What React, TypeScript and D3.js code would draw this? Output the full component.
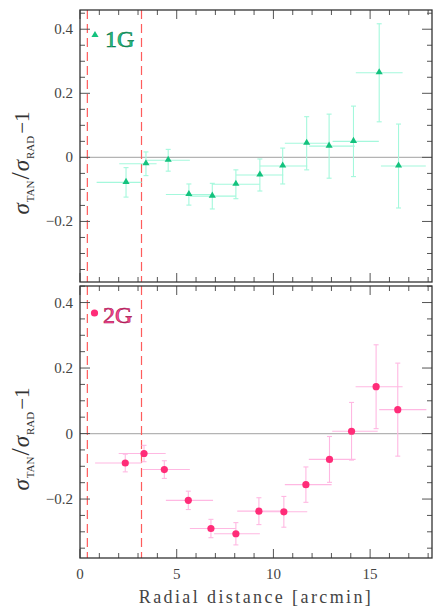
import React from 'react'
import * as d3 from 'd3'

// 1G (first generation)
const g1X = [2.38, 3.41, 4.56, 5.63, 6.84, 8.06, 9.30, 10.48, 11.72, 12.88, 14.14, 15.47, 16.47]
const g1Y = [-0.078, -0.020, -0.009, -0.116, -0.121, -0.084, -0.055, -0.027, 0.044, 0.035, 0.050, 0.264, -0.027]
const g1Err = [0.046, 0.037, 0.034, 0.033, 0.040, 0.045, 0.050, 0.056, 0.083, 0.100, 0.110, 0.153, 0.131]
const g1XLo = [0.86, 2.03, 3.45, 4.44, 5.68, 6.82, 8.06, 9.30, 10.59, 11.85, 13.06, 14.26, 15.56]
const g1XHi = [3.19, 3.96, 5.68, 6.82, 8.06, 9.30, 10.51, 11.75, 12.88, 14.21, 15.45, 16.68, 17.88]

// 2G (second generation)
const g2X = [2.34, 3.31, 4.36, 5.60, 6.77, 8.06, 9.25, 10.54, 11.68, 12.90, 14.04, 15.31, 16.43]
const g2Y = [-0.090, -0.061, -0.110, -0.204, -0.290, -0.306, -0.237, -0.239, -0.156, -0.079, 0.007, 0.143, 0.073]
const g2Err = [0.027, 0.025, 0.027, 0.028, 0.028, 0.034, 0.041, 0.047, 0.054, 0.070, 0.088, 0.128, 0.142]
const g2XLo = [0.78, 2.0, 3.22, 4.44, 5.68, 6.93, 8.13, 9.30, 10.59, 11.83, 13.04, 14.25, 15.47]
const g2XHi = [3.19, 4.43, 5.68, 6.88, 8.06, 9.30, 10.47, 11.75, 13.01, 14.25, 15.39, 16.68, 17.91]

// core radius and half-light radius
const refLines = [0.38, 3.18]
const xTickLabels = [0, 5, 10, 15]
const yTickLabels = [-0.2, 0, 0.2, 0.4]

const serif = '"Liberation Serif", "DejaVu Serif", "Times New Roman", Times, serif'
const left = 80, right = 432

const x = d3.scaleLinear().domain([0, 18.2]).range([left, right])

function Panel(props) {
  const { top, bottom, domain, xs, ys, errs, xlo, xhi, marker, barColor, dotColor, label, labelFill, labelStroke, showX } = props
  const y = d3.scaleLinear().domain(domain).range([bottom, top])
  const minorX = d3.range(0, 19)
  const minorY = d3.ticks(-0.35, 0.45, 16)
  const tri = d3.symbol().type(d3.symbolTriangle).size(22)()
  const midY = (top + bottom) / 2 + 17

  return (
    <g>
      {/* zero line */}
      <line x1={left} x2={right} y1={y(0)} y2={y(0)} stroke="#b4b4b4" strokeWidth={1.2} />
      {/* dashed radii */}
      {refLines.map((r, i) => (
        <line key={i} x1={x(r)} x2={x(r)} y1={top} y2={bottom} stroke="#ff5c5c" strokeWidth={1.2} strokeDasharray="9,5" />
      ))}
      {/* error bars */}
      {xs.map((d, i) => (
        <g key={i} stroke={barColor} strokeWidth={1.1}>
          <line x1={x(xlo[i])} x2={x(xhi[i])} y1={y(ys[i])} y2={y(ys[i])} />
          <line x1={x(d)} x2={x(d)} y1={y(ys[i] - errs[i])} y2={y(ys[i] + errs[i])} />
          <line x1={x(d) - 2.5} x2={x(d) + 2.5} y1={y(ys[i] - errs[i])} y2={y(ys[i] - errs[i])} />
          <line x1={x(d) - 2.5} x2={x(d) + 2.5} y1={y(ys[i] + errs[i])} y2={y(ys[i] + errs[i])} />
        </g>
      ))}
      {/* markers */}
      {xs.map((d, i) => marker === 'tri'
        ? <path key={'m' + i} d={tri} transform={`translate(${x(d)},${y(ys[i]) - 0.5})`} fill={dotColor} />
        : <circle key={'m' + i} cx={x(d)} cy={y(ys[i])} r={3.6} fill={dotColor} />)}
      {/* ticks */}
      {minorX.map(t => {
        const len = t % 5 === 0 ? 9 : 5
        return (
          <g key={'tx' + t} stroke="#555" strokeWidth={1}>
            <line x1={x(t)} x2={x(t)} y1={bottom} y2={bottom - len} />
            <line x1={x(t)} x2={x(t)} y1={top} y2={top + len} />
          </g>
        )
      })}
      {minorY.map(t => {
        const major = Math.abs(Math.round(t * 100) % 20) === 0
        const len = major ? 10 : 5
        return (
          <g key={'ty' + t} stroke="#555" strokeWidth={1}>
            <line x1={left} x2={left + len} y1={y(t)} y2={y(t)} />
            <line x1={right} x2={right - len} y1={y(t)} y2={y(t)} />
          </g>
        )
      })}
      {yTickLabels.map(t => (
        <text key={'yl' + t} x={73} y={y(t) + 5} textAnchor="end" style={{ fontFamily: serif }} fontSize={15} fill="#444">
          {t === 0 ? '0' : (t < 0 ? '\u2212' : '') + Math.abs(t).toFixed(1)}
        </text>
      ))}
      {showX && xTickLabels.map(t => (
        <text key={'xl' + t} x={x(t)} y={bottom + 21} textAnchor="middle" style={{ fontFamily: serif }} fontSize={15} fill="#444">{t}</text>
      ))}
      {/* frame */}
      <rect x={left} y={top} width={right - left} height={bottom - top} fill="none" stroke="#333" strokeWidth={1.3} />
      {/* legend */}
      {marker === 'tri'
        ? <path d={tri} transform={`translate(95,${top + 25})`} fill={dotColor} />
        : <circle cx={94.5} cy={top + 27} r={3.6} fill={dotColor} />}
      <text x={marker === 'tri' ? 105 : 103} y={top + 37} style={{ fontFamily: serif }} fontSize={24} fill={labelFill} stroke={labelStroke} strokeWidth={0.6}>{label}</text>
      {/* y label */}
      <text transform={`translate(29,${midY}) rotate(-90)`} textAnchor="middle" style={{ fontFamily: serif }} fill="#333">
        <tspan fontStyle="italic" fontSize={23}>σ</tspan>
        <tspan fontSize={11} dy={5} dx={1}>TAN</tspan>
        <tspan fontSize={26} dy={-5} dx={1}>/</tspan>
        <tspan fontStyle="italic" fontSize={23} dx={1}>σ</tspan>
        <tspan fontSize={11} dy={5} dx={1}>RAD</tspan>
        <tspan fontSize={21} dy={-5} dx={2}>{'\u22121'}</tspan>
      </text>
    </g>
  )
}

export default function App() {
  return (
    <svg width={436} height={608} style={{ position: 'absolute', left: 0, top: 0, background: '#fff', fontFamily: serif }}>
      <Panel top={10} bottom={282} domain={[-0.389, 0.46]} xs={g1X} ys={g1Y} errs={g1Err} xlo={g1XLo} xhi={g1XHi}
        marker="tri" barColor="#a4f8dc" dotColor="#14c27e" label="1G" labelFill="#22c285" labelStroke="#0a7a4c" showX={false} />
      <Panel top={286} bottom={558} domain={[-0.38, 0.4505]} xs={g2X} ys={g2Y} errs={g2Err} xlo={g2XLo} xhi={g2XHi}
        marker="dot" barColor="#ffb8e2" dotColor="#ff2c78" label="2G" labelFill="#ff4a92" labelStroke="#a3124f" showX={true} />
      <text x={(left + right) / 2} y={603} textAnchor="middle" style={{ fontFamily: serif }} fontSize={18} letterSpacing={2.4} fill="#444">
        Radial distance [arcmin]
      </text>
    </svg>
  )
}
